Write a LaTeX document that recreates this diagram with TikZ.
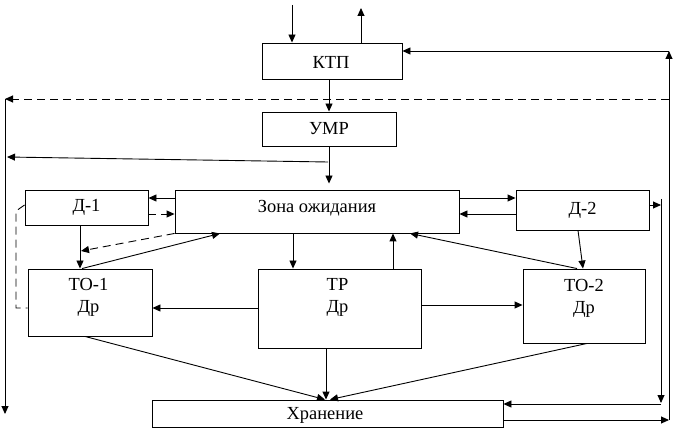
\documentclass[tikz,border=0pt]{standalone}
\usepackage{fontspec}
\setmainfont{Liberation Serif}
\usetikzlibrary{arrows.meta}
\newcommand\dfnt{\fontsize{18.5}{21.5}\selectfont}
\begin{document}
\begin{tikzpicture}[x=1bp,y=-1bp,
  box/.style={draw, line width=0.9bp, rectangle, inner sep=0pt, font=\dfnt},
  txt/.style={inner sep=0pt, align=center, font=\dfnt},
  arr/.style={line width=0.9bp, -{Triangle[length=8bp,width=7bp]}},
  dsh/.style={line width=0.9bp, dash pattern=on 8bp off 5bp},
  ln/.style={line width=0.9bp}]
\useasboundingbox (0,0) rectangle (674,436);
% boxes
\node[box, minimum width=140bp, minimum height=36bp] (ktp) at (332,61) {};
\node[txt] (ktpt) at (331,62.5) {КТП};
\node[box, minimum width=134bp, minimum height=34bp] (umr) at (329,129) {УМР};
\node[box, minimum width=284bp, minimum height=43bp] (zona) at (317,211.5) {};
\node[txt] (zonat) at (317,208.5) {Зона ожидания};
\node[box, minimum width=123bp, minimum height=35bp] (d1) at (86.5,207.5) {Д-1};
\node[box, minimum width=133bp, minimum height=40bp] (d2) at (582.5,210) {Д-2};
\node[box, minimum width=124bp, minimum height=67bp] (to1) at (90,302.5) {};
\node[box, minimum width=163bp, minimum height=79bp] (tr) at (339.5,308.5) {};
\node[box, minimum width=122bp, minimum height=74bp] (to2) at (584,306) {};
\node[box, minimum width=351bp, minimum height=27bp] (hran) at (327.5,413.5) {};
\node[txt] (hrant) at (325,415) {Хранение};
\node[txt, anchor=north] (to1t) at ([xshift=-1.5bp,yshift=-10bp]to1.north) {ТО-1\\Др};
\node[txt, anchor=north] (trt) at ([xshift=-2bp,yshift=-10bp]tr.north) {ТР\\Др};
\node[txt, anchor=north] (to2t) at ([yshift=-11bp]to2.north) {ТО-2\\Др};
% free ends
\coordinate (in1) at (292,5);
\coordinate (out1) at (361,8);
\coordinate (r1) at (669,420);
\coordinate (r2) at (669,51);
\coordinate (r3) at (661,205);
\coordinate (r3t) at (661,199);
\coordinate (r4) at (661,403);
\coordinate (r5) at (661,404);
\coordinate (dr) at (669,99);
\coordinate (dl) at (5,99);
\coordinate (lb) at (5,414);
\coordinate (ul) at (7,157);
\coordinate (us) at (328,162);
\coordinate (dd) at (81,251);
% top
\draw[arr] (in1) -- (ktp.north -| in1);
\draw[arr] (ktp.north -| out1) -- (out1);
\draw[arr] (ktp.south -| 329,0) -- (umr.north -| 329,0);
% right loops
\draw[arr] (r1 -| hran.east) -- (r1);
\draw[arr] (r1) -- (r2);
\draw[arr] (r2) -- (r2 -| ktp.east);
\draw[arr] (d2.east |- r3) -- (r3);
\draw[arr] (r3t) -- (r4);
\draw[arr] (r5) -- (r5 -| hran.east);
% dashed top and left line
\draw[dsh, -{Triangle[length=8bp,width=7bp]}] (dr) -- (dl);
\draw[arr] (dl) -- (lb);
\draw[arr] (us) -- (ul);
\draw[arr, shorten >=6bp] (umr.south -| 329,0) -- (zona.north -| 329,0);
% Zona <-> D1
\draw[arr] (zona.west |- 0,198) -- (d1.east |- 0,198);
\draw[dsh, -{Triangle[length=8bp,width=7bp]}] (d1.east |- 0,214) -- (zona.west |- 0,214);
\draw[dsh, -{Triangle[length=8bp,width=7bp]}] (zona.south west) -- (dd);
\draw[arr] (d1.south -| 80,0) -- (to1.north -| 80,0);
\draw[arr] (to1.north -| 82,0) -- (zona.south -| 220,0);
\draw[dsh] (d1.west |- 0,205) -- (16,211) -- (16,308) -- (to1.west |- 0,308);
% TR
\draw[arr] (tr.west |- 0,308) -- (to1.east |- 0,308);
\draw[arr] (tr.east |- 0,305) -- (to2.west |- 0,305);
\draw[arr] (zona.south -| 293,0) -- (tr.north -| 293,0);
\draw[arr] (tr.north -| 393,0) -- (zona.south -| 393,0);
% right side
\draw[arr] (to2.north -| 577,0) -- (zona.south -| 410,0);
\draw[arr] (d2.south -| 578,0) -- (to2.north -| 583,0);
\draw[arr] (zona.east |- 0,198) -- (d2.west |- 0,198);
\draw[arr] (d2.west |- 0,214) -- (zona.east |- 0,214);
% to storage
\draw[arr] (to1.south -| 85,0) -- (hran.north -| 325,0);
\draw[arr] (tr.south -| 326,0) -- (hran.north -| 326,0);
\draw[arr] (to2.south -| 587,0) -- (hran.north -| 330,0);
\end{tikzpicture}
\end{document}
